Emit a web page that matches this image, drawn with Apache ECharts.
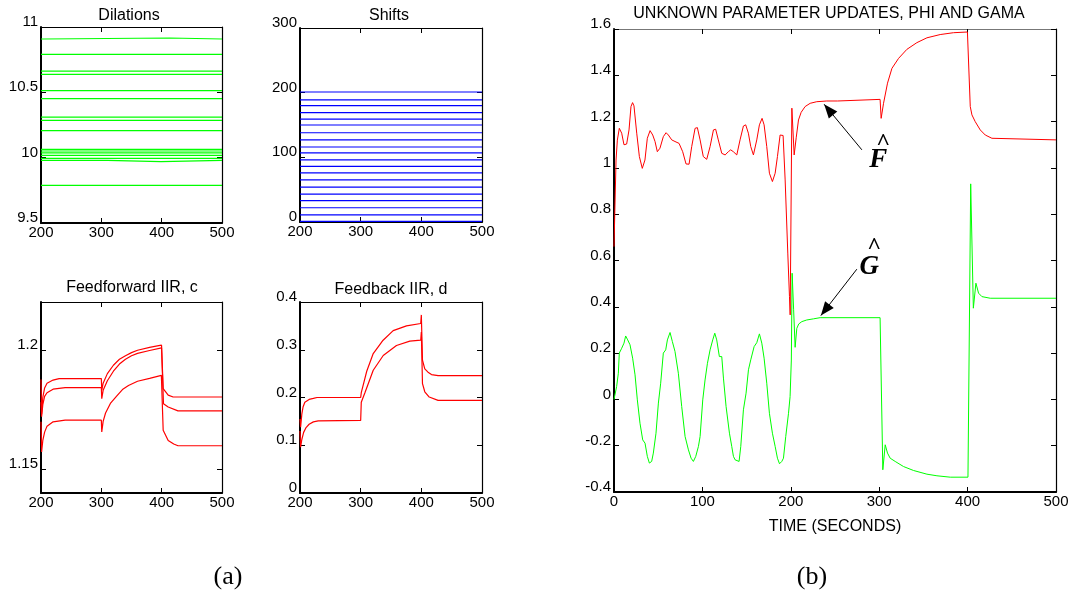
<!DOCTYPE html>
<html>
<head>
<meta charset="utf-8">
<script src="https://cdn.jsdelivr.net/npm/echarts@6/dist/echarts.min.js"></script>
<style>
  html, body { margin: 0; padding: 0; background: #fff; }
  #chart { width: 1075px; height: 597px; }
</style>
</head>
<body>
<div id="chart"></div>
<script>
// ---------- (a) wavelet network parameters, t = 200..500 ----------
const dilationTracks = [
  [[200, 10.908], [204, 10.908], [206, 10.916], [413, 10.916], [416, 10.908], [500, 10.908]],
  [[200, 10.791], [500, 10.791]],
  [[200, 10.663], [500, 10.663]],
  [[200, 10.638], [500, 10.638]],
  [[200, 10.513], [500, 10.513]],
  [[200, 10.452], [500, 10.452]],
  [[200, 10.311], [500, 10.311]],
  [[200, 10.286], [500, 10.286]],
  [[200, 10.207], [500, 10.207]],
  [[200, 10.064], [500, 10.064]],
  [[200, 10.051], [500, 10.051]],
  [[200, 10.036], [500, 10.036]],
  [[200, 10.018], [500, 10.018]],
  [[200, 9.995], [500, 9.995]],
  [[200, 9.980], [310, 9.980], [313, 9.969], [399, 9.969], [402, 9.980], [500, 9.980]],
  [[200, 9.788], [500, 9.788]]
];

const shiftLevels = [1, 11, 22, 33, 43, 54, 65, 76, 86, 96, 107, 116, 127, 138, 150, 159, 169, 180, 189, 201];
const shiftSpan = [200, 500];

const feedforwardC1 = [[200, 1.1875], [201, 1.173], [203, 1.180], [206, 1.184], [210, 1.186], [220, 1.1873], [230, 1.1879], [300, 1.1879],
  [300.7, 1.183], [303, 1.186], [310, 1.190], [320, 1.1935], [330, 1.196], [340, 1.1975], [350, 1.1988], [360, 1.1998], [380, 1.2010],
  [395, 1.2017], [399.8, 1.2019], [402.5, 1.1837], [410.8, 1.181], [419, 1.1802], [500, 1.1802]];
const feedforwardC2 = [[200, 1.178], [201, 1.172], [203, 1.177], [206, 1.1805], [210, 1.182], [220, 1.1835], [240, 1.1841], [300, 1.1841],
  [300.7, 1.1795], [303, 1.183], [310, 1.187], [320, 1.191], [330, 1.194], [340, 1.196], [350, 1.1975], [360, 1.1985], [380, 1.1997],
  [399.8, 1.2008], [403, 1.1774], [410.8, 1.176], [427, 1.1744], [500, 1.1744]];
const feedforwardC3 = [[200, 1.1698], [201, 1.1572], [203, 1.162], [206, 1.1655], [210, 1.168], [220, 1.1698], [240, 1.1705], [300, 1.1705],
  [300.7, 1.1656], [303, 1.170], [307, 1.1735], [315, 1.1775], [325, 1.1805], [335, 1.1833], [345, 1.185], [360, 1.1868], [380, 1.188],
  [399.5, 1.1893], [402.5, 1.1663], [410.8, 1.162], [420, 1.1605], [427, 1.1598], [500, 1.1598]];

const feedbackD1 = [[200, 0.155], [201, 0.138], [203, 0.165], [205, 0.18], [208, 0.19], [215, 0.196], [222, 0.198], [228, 0.2], [300, 0.2],
  [301, 0.21], [305, 0.23], [310, 0.255], [320.7, 0.292], [337, 0.32], [353.6, 0.34], [375.5, 0.35], [399, 0.355], [400, 0.373],
  [401.9, 0.278], [405.7, 0.26], [411, 0.253], [416.7, 0.248], [427.6, 0.2457], [500, 0.2457]];
const feedbackD2 = [[200, 0.13], [201, 0.096], [203, 0.112], [206, 0.127], [210, 0.137], [215, 0.144], [222, 0.149], [230, 0.151], [300, 0.152],
  [301, 0.19], [307, 0.21], [320.7, 0.257], [337.2, 0.288], [359, 0.309], [381, 0.318], [399, 0.32], [400, 0.337],
  [401.9, 0.229], [405.7, 0.212], [413, 0.201], [427.6, 0.194], [500, 0.194]];

// ---------- (b) unknown parameter updates, t = 0..500 ----------
const phiTrack = [[0, 0.66], [2.3, 1.034], [3.8, 1.12], [6, 1.171], [8.7, 1.15], [11.3, 1.10], [14.3, 1.103], [17, 1.164], [19.2, 1.265],
  [21, 1.282], [22.6, 1.268], [25.7, 1.15], [28.7, 1.049], [32, 0.998], [35, 1.034], [37.7, 1.128], [40.8, 1.161], [43.8, 1.142],
  [46.4, 1.114], [49, 1.07], [52, 1.085], [55.8, 1.135], [58.9, 1.152], [61.5, 1.142], [65.3, 1.121], [69, 1.114], [73.6, 1.106],
  [77.7, 1.07], [81.5, 1.017], [84.9, 1.016], [87.9, 1.092], [91.7, 1.171], [94.3, 1.174], [97.4, 1.121], [101, 1.049], [104.9, 1.037],
  [108.7, 1.092], [112.5, 1.164], [115, 1.167], [118, 1.121], [121.9, 1.063], [125.7, 1.056], [129.4, 1.07], [132, 1.078], [135, 1.07],
  [138.9, 1.056], [142.6, 1.121], [146.4, 1.181], [149, 1.186], [152, 1.15], [154.7, 1.092], [157.7, 1.056], [161.5, 1.121],
  [164.5, 1.186], [167.5, 1.214], [169.8, 1.186], [172.8, 1.092], [175.8, 0.977], [179.2, 0.941], [182.3, 0.977], [184.9, 1.049],
  [187.9, 1.142], [189.8, 1.15], [191.3, 1.14], [193.6, 0.948], [196.6, 0.632], [198.5, 0.444], [199.3, 0.365], [201.2, 1.258],
  [201.9, 1.258], [203.8, 1.056], [206.1, 1.13], [208.7, 1.207], [211.7, 1.24], [216.2, 1.265], [221.9, 1.279], [229.4, 1.286],
  [240.7, 1.289], [253, 1.289], [254, 1.296], [301, 1.296], [302.2, 1.214], [304.9, 1.279], [309.4, 1.366], [314.4, 1.43],
  [321.9, 1.473], [331.3, 1.512], [342.6, 1.541], [354, 1.562], [369, 1.576], [384, 1.584], [399.8, 1.587], [401.2, 1.587],
  [403, 1.265], [404.9, 1.229], [408.6, 1.2], [414.3, 1.164], [420, 1.142], [427.5, 1.128], [429.4, 1.121], [500, 1.121]];

const gamaTrack = [[0, 0.0], [3, 0.056], [4.9, 0.113], [6, 0.2], [8.7, 0.221], [11.3, 0.243], [13.2, 0.274], [15.5, 0.257],
  [18.1, 0.236], [21.1, 0.178], [23.8, 0.106], [26.4, -0.002], [29.4, -0.103], [32.5, -0.175], [35.1, -0.189], [37.7, -0.246],
  [40, -0.275], [42.6, -0.268], [44.5, -0.232], [47.5, -0.146], [50.2, -0.016], [52.8, 0.07], [55.8, 0.2], [58.5, 0.214],
  [60.4, 0.257], [63.4, 0.289], [66, 0.25], [69, 0.207], [72.8, 0.113], [76.6, -0.031], [80.4, -0.16], [84.2, -0.218],
  [87.2, -0.254], [89.8, -0.268], [92.5, -0.246], [95.5, -0.203], [97.4, -0.16], [100.4, -0.002], [103, 0.084], [105.7, 0.156],
  [108.7, 0.214], [111.7, 0.257], [114, 0.286], [116.2, 0.257], [119.2, 0.185], [121.9, 0.185], [123.8, 0.092], [126.8, -0.031],
  [130.6, -0.146], [133.2, -0.203], [135.1, -0.246], [137, -0.261], [138.9, -0.254], [141.5, -0.268], [143.4, -0.203],
  [146.4, -0.045], [149.4, 0.027], [152.1, 0.128], [154.7, 0.171], [158.5, 0.228], [161.5, 0.245], [164.5, 0.283], [167.2, 0.243],
  [169.8, 0.178], [172.8, 0.07], [175.8, -0.06], [179.2, -0.146], [182.3, -0.203], [184.9, -0.254], [187.2, -0.278],
  [189.8, -0.268], [191.7, -0.254], [194.3, -0.16], [197.4, -0.06], [199.2, 0.012], [200.6, 0.17], [201.5, 0.545], [202.4, 0.545],
  [203.2, 0.387], [204.9, 0.225], [206.8, 0.307], [209, 0.326], [212.5, 0.336], [218, 0.343], [225.7, 0.348], [233.2, 0.353],
  [301, 0.353], [304.1, -0.304], [306.8, -0.196], [309.4, -0.232], [312.4, -0.254], [318.1, -0.268], [327.5, -0.29],
  [338.8, -0.307], [354, -0.323], [365.3, -0.33], [380.4, -0.336], [400.4, -0.336], [403.5, 0.931], [406.5, 0.394],
  [409.4, 0.502], [412.4, 0.459], [416.2, 0.444], [425.6, 0.437], [500, 0.437]];

// annotation arrows: [tail, head] in data units, and hat-letter labels
const phiArrow = [[280.4, 1.078], [237.7, 1.275]];
const gamaArrow = [[274.7, 0.5625], [234, 0.362]];
const phiLabel = { letter: 'F', at: [298.9, 1.032], hatAt: [304.5, 1.110] };
const gamaLabel = { letter: 'G', at: [288.7, 0.570], hatAt: [294.3, 0.659] };

// ---------- styling helpers ----------
const SANS = '"Liberation Sans", Arial, Helvetica, sans-serif';
const SERIF = '"Liberation Serif", "Times New Roman", serif';
const RED = '#ff0000', GREEN = '#00ff00', BLUE = '#0000ff';

const grids = [
  { left: 41, top: 27, width: 181, height: 196 },   // Dilations
  { left: 300, top: 28, width: 182, height: 194 },  // Shifts
  { left: 41, top: 302, width: 181, height: 191 },  // Feedforward
  { left: 300, top: 302, width: 182, height: 191 }, // Feedback
  { left: 614, top: 29, width: 442, height: 463 }   // parameter updates
];

const xAxes = [], yAxes = [];
function boxAxes(gi, xr, yr, mainWidth, topColor) {
  const tick = { inside: true, length: 5, lineStyle: { color: '#000', width: 1 } };
  const xBase = { type: 'value', gridIndex: gi, min: xr.min, max: xr.max, interval: xr.interval, splitLine: { show: false } };
  xAxes.push(Object.assign({}, xBase, {
    position: 'bottom',
    axisLine: { onZero: false, lineStyle: { color: '#000', width: mainWidth } },
    axisTick: tick,
    axisLabel: { color: '#000', fontFamily: SANS, fontSize: 15, margin: 2 }
  }));
  xAxes.push(Object.assign({}, xBase, {
    position: 'top',
    axisLine: { onZero: false, lineStyle: { color: topColor, width: 1 } },
    axisTick: tick,
    axisLabel: { show: false }
  }));
  const yBase = { type: 'value', gridIndex: gi, min: yr.min, max: yr.max, splitLine: { show: false } };
  if (yr.interval) yBase.interval = yr.interval;
  const yTick = Object.assign({}, tick, yr.custom ? { customValues: yr.custom } : {});
  // labels sit a little above their tick marks
  const yLabel = { color: '#000', fontFamily: SANS, fontSize: 15, margin: 3, verticalAlign: 'bottom', lineHeight: 10 };
  if (yr.custom) yLabel.customValues = yr.custom;
  yAxes.push(Object.assign({}, yBase, {
    position: 'left',
    axisLine: { onZero: false, lineStyle: { color: '#000', width: mainWidth } },
    axisTick: yTick,
    axisLabel: yLabel
  }));
  yAxes.push(Object.assign({}, yBase, {
    position: 'right',
    axisLine: { onZero: false, lineStyle: { color: '#000', width: 1.2 } },
    axisTick: yTick,
    axisLabel: { show: false }
  }));
}

boxAxes(0, { min: 200, max: 500, interval: 100 }, { min: 9.5, max: 11, interval: 0.5 }, 2, '#000');
boxAxes(1, { min: 200, max: 500, interval: 100 }, { min: 0, max: 300, interval: 100 }, 2, '#000');
boxAxes(2, { min: 200, max: 500, interval: 100 }, { min: 1.14, max: 1.22, custom: [1.15, 1.2] }, 2, '#000');
boxAxes(3, { min: 200, max: 500, interval: 100 }, { min: 0, max: 0.4, interval: 0.1 }, 2, '#000');
boxAxes(4, { min: 0, max: 500, interval: 100 }, { min: -0.4, max: 1.6, interval: 0.2 }, 2, '#777');

xAxes[8].name = 'TIME (SECONDS)';
xAxes[8].nameLocation = 'middle';
xAxes[8].nameGap = 27;
xAxes[8].nameTextStyle = { color: '#000', fontFamily: SANS, fontSize: 16 };

function line(gi, data, color, width) {
  return {
    type: 'line', xAxisIndex: gi * 2, yAxisIndex: gi * 2, data: data,
    symbol: 'none', showSymbol: false, silent: true, animation: false,
    lineStyle: { color: color, width: width }, itemStyle: { color: color }
  };
}

const series = [];
dilationTracks.forEach(function (tr) { series.push(line(0, tr, GREEN, 1.2)); });
shiftLevels.forEach(function (lv) { series.push(line(1, [[shiftSpan[0], lv], [shiftSpan[1], lv]], BLUE, 1.2)); });
[feedforwardC1, feedforwardC2, feedforwardC3].forEach(function (c) { series.push(line(2, c, RED, 1.2)); });
[feedbackD1, feedbackD2].forEach(function (d) { series.push(line(3, d, RED, 1.2)); });

function annotate(s, arrow, lab) {
  s.markLine = {
    silent: true, animation: false,
    symbol: ['none', 'none'],
    lineStyle: { color: '#000', width: 1, type: 'solid' },
    label: { show: false },
    data: [[{ coord: arrow[0] }, { coord: arrow[1] }]]
  };
  s.markPoint = {
    silent: true, animation: false,
    symbol: 'circle', symbolSize: 1, itemStyle: { color: 'rgba(0,0,0,0)' },
    label: { show: true, position: 'inside', formatter: '{b}', color: '#000' },
    data: [
      { name: lab.letter, coord: lab.at,
        label: { fontFamily: SERIF, fontStyle: 'italic', fontWeight: 'bold', fontSize: 27 } },
      { name: '^', coord: lab.hatAt,
        label: { fontFamily: SERIF, fontWeight: 'bold', fontSize: 24 } }
    ]
  };
  return s;
}
series.push(annotate(line(4, phiTrack, RED, 1), phiArrow, phiLabel));
series.push(annotate(line(4, gamaTrack, GREEN, 1), gamaArrow, gamaLabel));

function caption(text, x, y, font) {
  return {
    type: 'text', x: x, y: y, silent: true,
    style: { text: text, font: font, fill: '#000', align: 'center', verticalAlign: 'middle',
             textAlign: 'center', textVerticalAlign: 'middle' }
  };
}
const titleFont = '16px ' + SANS;
const graphic = [
  caption('Dilations', 129, 16, titleFont),
  caption('Shifts', 389, 16, titleFont),
  caption('Feedforward IIR, c', 132, 288, titleFont),
  caption('Feedback IIR, d', 391, 290, titleFont),
  caption('UNKNOWN PARAMETER UPDATES, PHI AND GAMA', 829, 14, '16px ' + SANS),
  caption('(a)', 228, 577, '26px ' + SERIF),
  caption('(b)', 812, 577, '26px ' + SERIF)
];

const chart = echarts.init(document.getElementById('chart'), null, { renderer: 'canvas' });
chart.setOption({
  backgroundColor: '#fff',
  animation: false,
  grid: grids.map(function (g) { return Object.assign({ containLabel: false }, g); }),
  xAxis: xAxes,
  yAxis: yAxes,
  series: series,
  graphic: graphic
});

// filled arrowheads at the head end of each annotation arrow, placed via the chart's own scale
function arrowHead(arrow) {
  const p0 = chart.convertToPixel({ gridIndex: 4 }, arrow[0]);
  const p1 = chart.convertToPixel({ gridIndex: 4 }, arrow[1]);
  const dx = p1[0] - p0[0], dy = p1[1] - p0[1];
  const len = Math.sqrt(dx * dx + dy * dy);
  const ux = dx / len, uy = dy / len;
  const headLen = 14, halfW = 5.5;
  const bx = p1[0] - ux * headLen, by = p1[1] - uy * headLen;
  return {
    type: 'polygon', silent: true, z: 10,
    shape: { points: [p1, [bx - uy * halfW, by + ux * halfW], [bx + uy * halfW, by - ux * halfW]] },
    style: { fill: '#000' }
  };
}
chart.setOption({ graphic: graphic.concat([arrowHead(phiArrow), arrowHead(gamaArrow)]) });
</script>
</body>
</html>
